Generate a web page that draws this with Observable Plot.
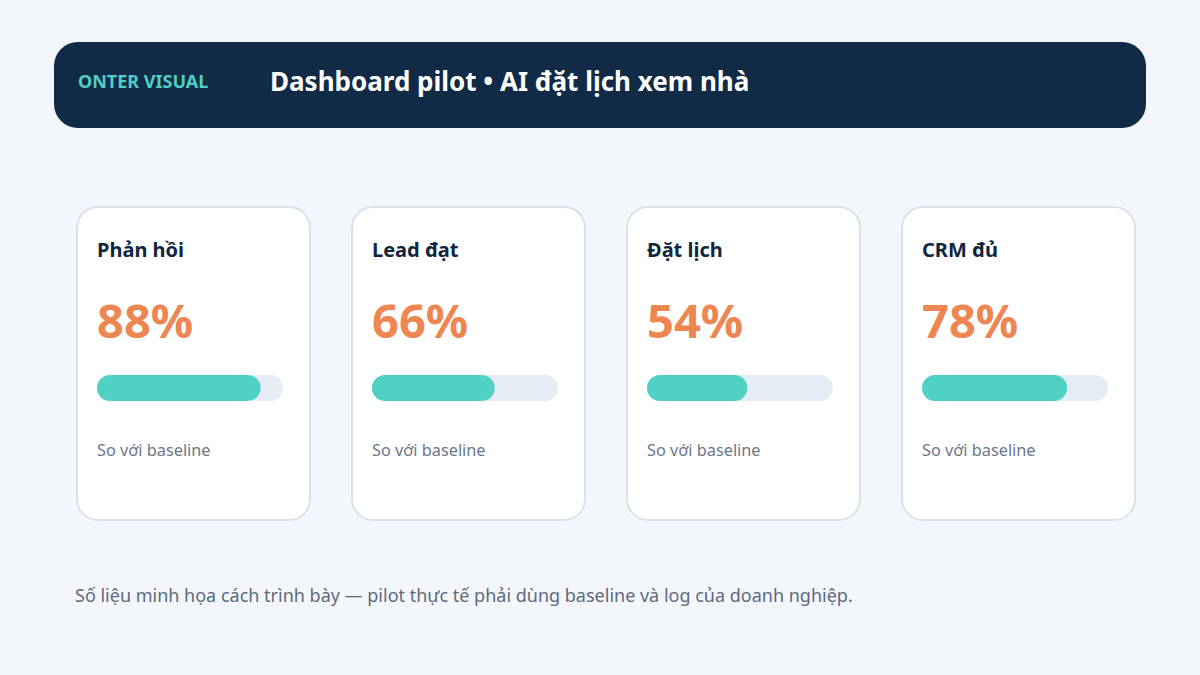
<!DOCTYPE html>
<html>
<head>
<meta charset="utf-8">
<script src="https://cdn.jsdelivr.net/npm/d3@7"></script>
<script src="https://cdn.jsdelivr.net/npm/@observablehq/plot@0.6"></script>
<style>
  html, body { margin: 0; padding: 0; }
  body { width: 1200px; height: 675px; background: #f3f7fb; font-family: "Noto Sans", "Open Sans", sans-serif; position: relative; overflow: hidden; }
  .header { position: absolute; left: 54px; top: 42px; width: 1092px; height: 86px; border-radius: 24px; background: #112a45; }
  .brand { position: absolute; left: 24px; top: 30px; font-size: 18px; font-weight: 700; color: #4fcfc4; line-height: 1; white-space: nowrap; }
  .title { position: absolute; left: 216px; top: 26px; font-size: 26px; font-weight: 700; color: #ffffff; line-height: 1; white-space: nowrap; }
  .card { box-sizing: border-box; position: absolute; top: 206px; width: 235px; height: 315px; background: #ffffff; border: 2px solid #d9e1eb; border-radius: 22px; }
  .label { position: absolute; left: 19px; top: 32px; font-size: 20px; font-weight: 700; color: #10263f; line-height: 1; white-space: nowrap; }
  .value { position: absolute; left: 19px; top: 89px; font-size: 47px; font-weight: 700; color: #ee8651; line-height: 1; white-space: nowrap; }
  .bar { position: absolute; left: 19px; top: 167px; }
  .sub { position: absolute; left: 19px; top: 234px; font-size: 16.3px; color: #6b7689; line-height: 1; white-space: nowrap; }
  .footer { position: absolute; left: 75px; top: 586px; font-size: 18px; color: #5d6a7e; line-height: 1; white-space: nowrap; }
  .bar svg { display: block; }
</style>
</head>
<body>
<div class="header">
  <div class="brand" id="brand"></div>
  <div class="title" id="title"></div>
</div>
<div id="cards"></div>
<div class="footer" id="footer"></div>
<script>
const brandText = "ONTER VISUAL";
const titleText = "Dashboard pilot • AI đặt lịch xem nhà";
const labels = ["Phản hồi", "Lead đạt", "Đặt lịch", "CRM đủ"];
const values = [88, 66, 54, 78];
const subText = "So với baseline";
const footerText = "Số liệu minh họa cách trình bày — pilot thực tế phải dùng baseline và log của doanh nghiệp.";
const maxValue = 100;

document.getElementById("brand").textContent = brandText;
document.getElementById("title").textContent = titleText;
document.getElementById("footer").textContent = footerText;

const cardsEl = document.getElementById("cards");
labels.forEach((lab, i) => {
  const card = document.createElement("div");
  card.className = "card";
  card.style.left = (76 + i * 275) + "px";
  const l = document.createElement("div"); l.className = "label"; l.textContent = lab;
  const v = document.createElement("div"); v.className = "value"; v.textContent = values[i] + "%";
  const b = document.createElement("div"); b.className = "bar";
  const s = document.createElement("div"); s.className = "sub"; s.textContent = subText;
  const chart = Plot.plot({
    width: 186,
    height: 26,
    margin: 0,
    style: { background: "transparent" },
    x: { domain: [0, maxValue], axis: null },
    marks: [
      Plot.barX([maxValue], { x: d => d, fill: "#e6ecf3", rx: 13 }),
      Plot.barX([values[i]], { x: d => d, fill: "#4fd1c5", rx: 13 })
    ]
  });
  b.appendChild(chart);
  card.append(l, v, b, s);
  cardsEl.appendChild(card);
});
</script>
</body>
</html>
